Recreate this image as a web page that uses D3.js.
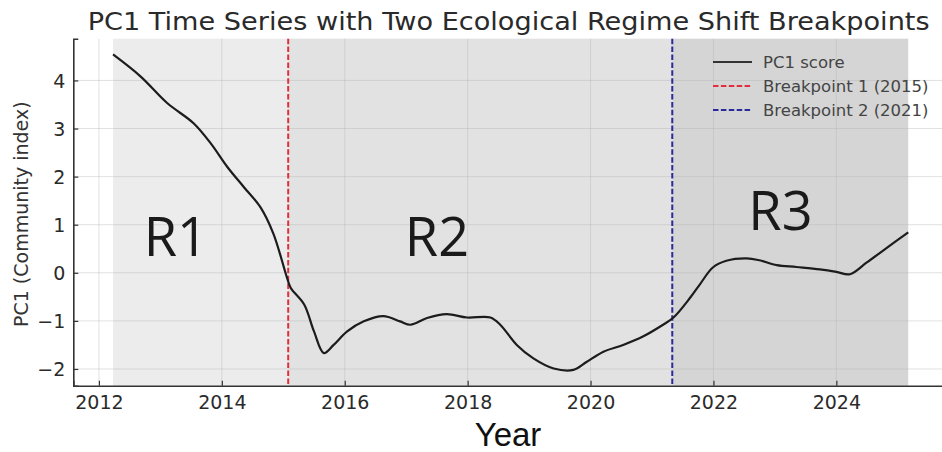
<!DOCTYPE html>
<html>
<head>
<meta charset="utf-8">
<script src="https://cdn.jsdelivr.net/npm/d3@7"></script>
<style>
  body { margin: 0; background: #fff; }
  svg { display: block; }
</style>
</head>
<body>
<div id="chart"></div>
<script>
// PC1 series (decimal years)
const years = [2012.23, 2012.68, 2013.11, 2013.54, 2013.82, 2014.09, 2014.36, 2014.63, 2014.84,
  2015.06, 2015.12, 2015.34, 2015.50, 2015.66, 2015.82, 2016.04, 2016.31, 2016.63, 2016.90,
  2017.07, 2017.34, 2017.66, 2017.99, 2018.37, 2018.53, 2018.80, 2019.07, 2019.40, 2019.72,
  2019.94, 2020.21, 2020.53, 2020.86, 2021.18, 2021.35, 2021.62, 2021.78, 2021.99, 2022.21,
  2022.54, 2022.75, 2023.03, 2023.35, 2023.73, 2024.00, 2024.22, 2024.49, 2024.81, 2025.17];
const pc1 = [4.54, 4.08, 3.53, 3.11, 2.69, 2.20, 1.78, 1.36, 0.81,
  -0.10, -0.31, -0.66, -1.22, -1.67, -1.50, -1.22, -1.01, -0.90, -1.01,
  -1.08, -0.94, -0.86, -0.93, -0.93, -1.08, -1.50, -1.78, -1.99, -2.02,
  -1.85, -1.64, -1.50, -1.32, -1.08, -0.93, -0.52, -0.24, 0.11, 0.25,
  0.30, 0.26, 0.16, 0.12, 0.07, 0.02, -0.03, 0.21, 0.51, 0.84];

const breakpoints = [2015.08, 2021.33];
const breakpointNames = ["Breakpoint 1 (2015)", "Breakpoint 2 (2021)"];
const breakpointColors = ["#e0303f", "#2a2a9a"];

const regimeNames = ["R1", "R2", "R3"];
const regimeFills = ["#ececec", "#e2e2e2", "#d5d5d5"];

const xTicks = [2012, 2014, 2016, 2018, 2020, 2022, 2024];
const yTicks = [-2, -1, 0, 1, 2, 3, 4];

const W = 942, H = 452;
const margin = { top: 38.7, left: 73.3, bottom: 385.7, right: 948 };

const svg = d3.select("#chart").append("svg")
  .attr("width", W).attr("height", H)
  .style("font-family", "'DejaVu Sans', sans-serif");

// matplotlib-like 5% padding around the data
const xPad = (d3.max(years) - d3.min(years)) * 0.05;
const yPad = (d3.max(pc1) - d3.min(pc1)) * 0.05;
const x = d3.scaleLinear()
  .domain([d3.min(years) - xPad, d3.max(years) + xPad])
  .range([margin.left, margin.right]);
const y = d3.scaleLinear()
  .domain([d3.min(pc1) - yPad, d3.max(pc1) + yPad])
  .range([margin.bottom, margin.top]);

// regime shading
const edges = [years[0], ...breakpoints, years[years.length - 1]];
svg.append("g").selectAll("rect")
  .data(regimeNames)
  .join("rect")
  .attr("x", (d, i) => x(edges[i]))
  .attr("width", (d, i) => x(edges[i + 1]) - x(edges[i]))
  .attr("y", margin.top)
  .attr("height", margin.bottom - margin.top)
  .attr("fill", (d, i) => regimeFills[i]);

// grid
const grid = svg.append("g").attr("stroke", "#b4b4b4").attr("stroke-opacity", 0.4).attr("stroke-width", 1);
grid.selectAll(".gx").data(xTicks).join("line")
  .attr("x1", d => x(d)).attr("x2", d => x(d))
  .attr("y1", margin.top).attr("y2", margin.bottom);
grid.selectAll(".gy").data(yTicks).join("line")
  .attr("x1", margin.left).attr("x2", margin.right)
  .attr("y1", d => y(d)).attr("y2", d => y(d));

// breakpoint lines
svg.append("g").selectAll("line")
  .data(breakpoints)
  .join("line")
  .attr("x1", d => x(d)).attr("x2", d => x(d))
  .attr("y1", margin.top).attr("y2", margin.bottom)
  .attr("stroke", (d, i) => breakpointColors[i])
  .attr("stroke-width", 2)
  .attr("stroke-dasharray", "5.5,2.4");

// PC1 line
const line = d3.line()
  .x((d, i) => x(years[i]))
  .y(d => y(d))
  .curve(d3.curveCatmullRom.alpha(0.5));
svg.append("path")
  .datum(pc1)
  .attr("d", line)
  .attr("fill", "none")
  .attr("stroke", "#1c1c1c")
  .attr("stroke-width", 2.2);

// axes
const fmt = d => (d < 0 ? "\u2212" + Math.abs(d) : d);
const xAxis = svg.append("g")
  .attr("transform", `translate(0,${margin.bottom})`)
  .call(d3.axisBottom(x).tickValues(xTicks).tickSize(-5).tickPadding(10).tickFormat(d3.format("d")));
const yAxis = svg.append("g")
  .attr("transform", `translate(${margin.left},0)`)
  .call(d3.axisLeft(y).tickValues(yTicks).tickSize(-5).tickPadding(8).tickFormat(fmt));
[xAxis, yAxis].forEach(a => {
  a.select(".domain").attr("stroke", "#333").attr("stroke-width", 1.6);
  a.selectAll(".tick line").attr("stroke", "#333").attr("stroke-width", 1.2);
  a.selectAll(".tick text").attr("fill", "#2a2a2a").style("font-size", "19px")
    .style("font-family", "'DejaVu Sans', sans-serif");
});
yAxis.selectAll(".tick text").attr("dy", "0.36em");

// title
svg.append("text")
  .attr("x", (margin.left + margin.right) / 2 - 2)
  .attr("y", 30)
  .attr("text-anchor", "middle")
  .attr("fill", "#2a2a2a")
  .attr("textLength", 842)
  .attr("lengthAdjust", "spacingAndGlyphs")
  .style("font-size", "25px")
  .text("PC1 Time Series with Two Ecological Regime Shift Breakpoints");

// y label
svg.append("text")
  .attr("transform", `translate(28,${(margin.top + margin.bottom) / 2 + 2}) rotate(-90)`)
  .attr("text-anchor", "middle")
  .attr("fill", "#333")
  .style("font-size", "19px")
  .text("PC1 (Community index)");

// x label
svg.append("text")
  .attr("x", 508)
  .attr("y", 446)
  .attr("text-anchor", "middle")
  .attr("fill", "#111")
  .style("font-family", "'Liberation Sans Narrow', 'Liberation Sans', sans-serif")
  .style("font-size", "33px")
  .text("Year");

// regime labels (anchored in data units)
const regimeLabelAt = [[2013.25, 0.35], [2017.5, 0.35], [2023.09, 0.9]];
svg.append("g").selectAll("text")
  .data(regimeNames)
  .join("text")
  .attr("x", (d, i) => x(regimeLabelAt[i][0]))
  .attr("y", (d, i) => y(regimeLabelAt[i][1]))
  .attr("text-anchor", "middle")
  .attr("fill", "#1a1a1a")
  .style("font-family", "'Open Sans', 'Noto Sans', sans-serif")
  .style("font-size", "54px")
  .text(d => d);

// legend
const legendItems = [
  { name: "PC1 score", color: "#333", dash: null },
  { name: breakpointNames[0], color: breakpointColors[0], dash: "5.5,2.4" },
  { name: breakpointNames[1], color: breakpointColors[1], dash: "5.5,2.4" }
];
const legend = svg.append("g").attr("transform", "translate(713,62)");
const li = legend.selectAll("g").data(legendItems).join("g")
  .attr("transform", (d, i) => `translate(0,${i * 24})`);
li.append("line")
  .attr("x1", 0).attr("x2", 39)
  .attr("stroke", d => d.color)
  .attr("stroke-width", 2)
  .attr("stroke-dasharray", d => d.dash);
li.append("text")
  .attr("x", 50).attr("dy", "0.35em")
  .attr("fill", "#444")
  .style("font-size", "16.5px")
  .text(d => d.name);
</script>
</body>
</html>
